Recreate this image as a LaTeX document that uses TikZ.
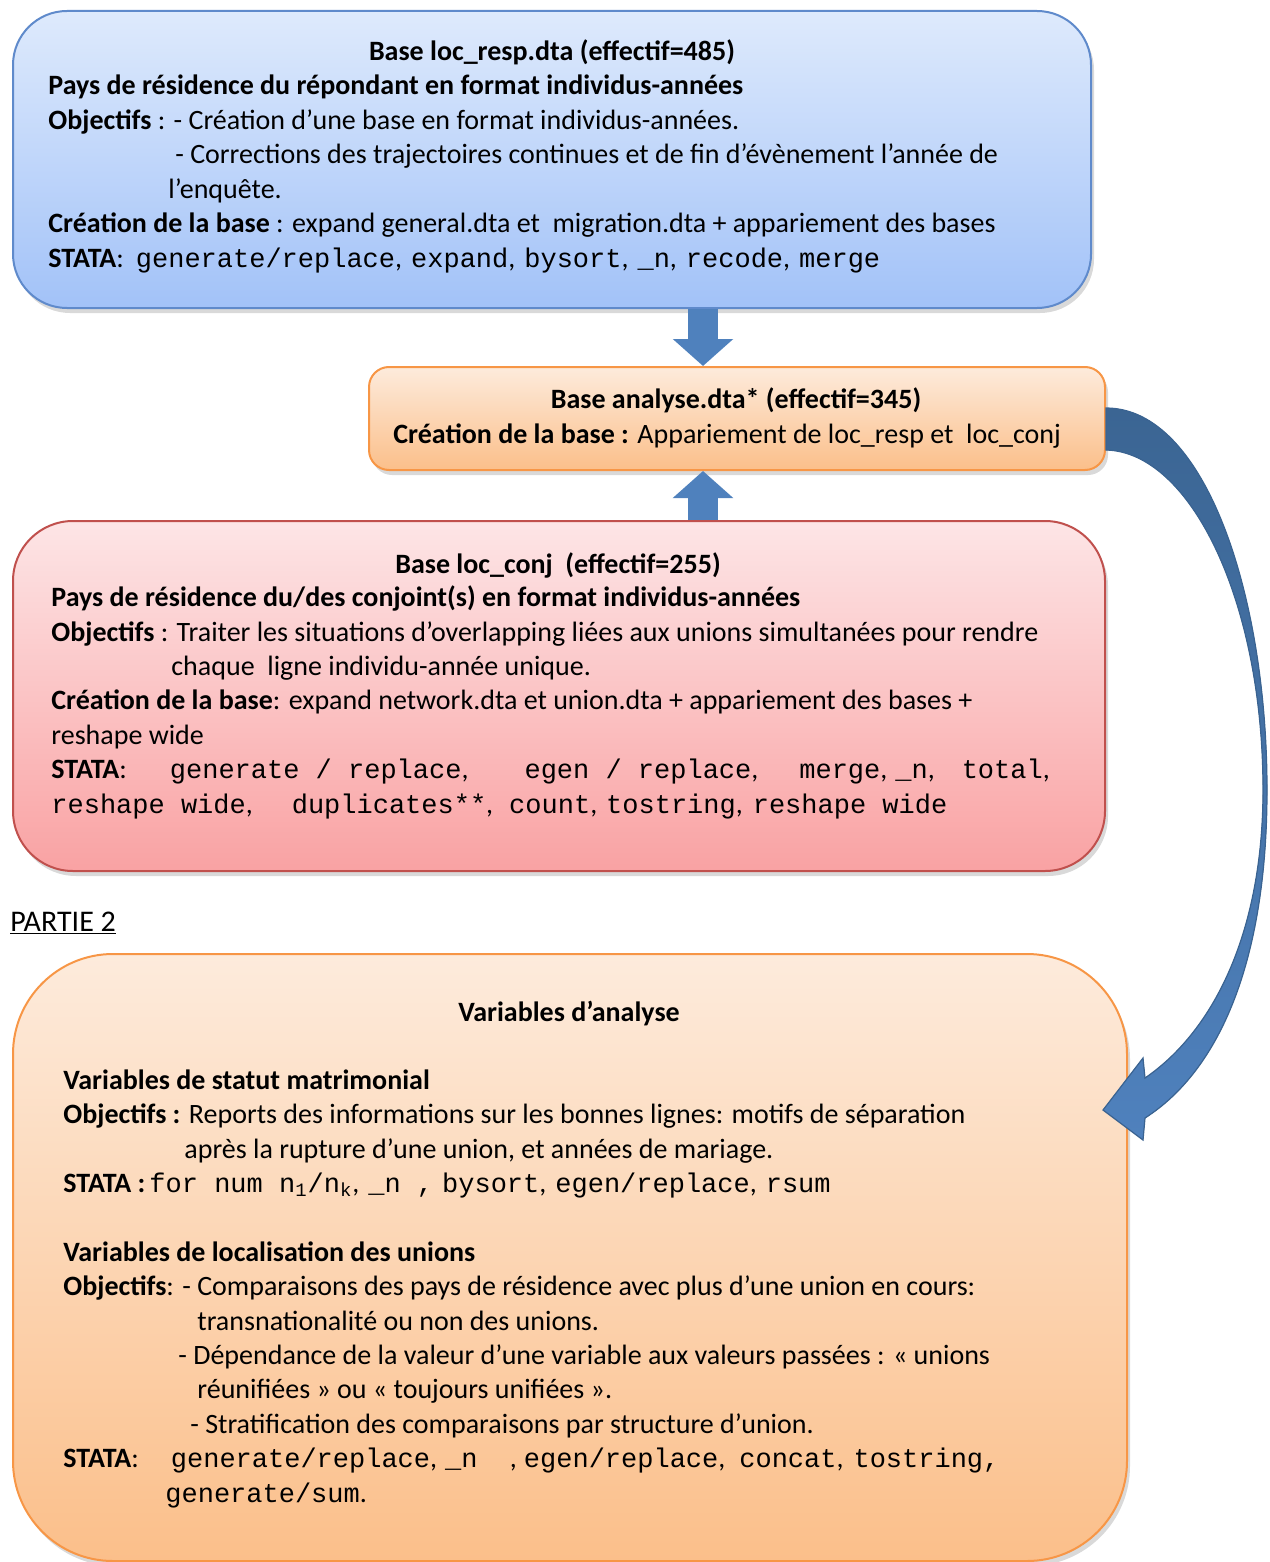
\documentclass[tikz,border=0pt]{standalone}
\usepackage{fontspec}
\setmainfont{Carlito}
\setmonofont{Liberation Mono}
\usetikzlibrary{shadows,arrows.meta}

\definecolor{blueA}{HTML}{DEEAFC}
\definecolor{blueB}{HTML}{A2C2F8}
\definecolor{blueline}{HTML}{5F8ACB}
\definecolor{orangeA}{HTML}{FDEBDC}
\definecolor{orangeB}{HTML}{FBBF8A}
\definecolor{orangeline}{HTML}{F79646}
\definecolor{redA}{HTML}{FDE5E6}
\definecolor{redB}{HTML}{F9A2A3}
\definecolor{redline}{HTML}{C0504D}
\definecolor{arrowblue}{HTML}{4F81BD}
\definecolor{arrowdark}{HTML}{3B6593}
\definecolor{arrowline}{HTML}{3A6391}

\newcommand{\cmd}[1]{{\ttfamily\fontsize{13.5}{17.2}\selectfont #1}}
\newcommand{\sep}{,\hspace{4.5pt}}

\begin{document}
\begin{tikzpicture}[x=0.5pt, y=-0.5pt,
    box/.style={draw, line width=1pt, anchor=north west, inner sep=0pt,
      drop shadow={opacity=0.3, shadow xshift=1.5pt, shadow yshift=-2.5pt}},
    bluebox/.style={box, draw=blueline, top color=blueA, bottom color=blueB, rounded corners=27pt},
    anabox/.style={box, draw=orangeline, top color=orangeA, bottom color=orangeB, rounded corners=10pt},
    redbox/.style={box, draw=redline, top color=redA, bottom color=redB, rounded corners=30pt},
    varbox/.style={box, draw=orangeline, top color=orangeA, bottom color=orangeB, rounded corners=50pt},
    title/.style={anchor=base, inner sep=0pt, font=\fontsize{14}{17.2}\selectfont\bfseries},
    txt/.style={anchor=base west, align=left, inner sep=0pt, font=\fontsize{14}{17.2}\selectfont},
    fat arrow/.style={arrowblue, line width=15pt, -{Triangle[length=13.5pt, width=29.5pt]}}]
  \useasboundingbox (0,0) rectangle (1269,1562);

  % the four boxes
  \node[bluebox, minimum width=539pt, minimum height=148.5pt] (resp) at (12,10) {};
  \node[anabox, minimum width=368pt, minimum height=51.5pt] (analyse) at (368,366) {};
  \node[redbox, minimum width=546pt, minimum height=175pt] (conj) at (12,520) {};
  \node[varbox, minimum width=557pt, minimum height=303.5pt] (vars) at (12,953) {};

  % straight arrows
  \draw[fat arrow] (resp.south -| 703,0) -- (analyse.north -| 703,0);
  \draw[fat arrow] (conj.north -| 703,0) -- (analyse.south -| 703,0);

  % curved arrow to part 2
  \filldraw[draw=arrowline, line width=0.6pt, top color=arrowdark, bottom color=arrowblue]
    (analyse.east |- 0,408) .. controls (1205,408) and (1267,595) .. (1267,790)
    .. controls (1267,960) and (1220,1070) .. (1145,1118)
    -- (1143,1140) -- (1103,1110) -- (1143,1058) -- (1145,1078)
    .. controls (1215,1030) and (1263,930) .. (1263,790)
    .. controls (1263,600) and (1190,452) .. (analyse.east |- 0,450) -- cycle;

  % texts of the first box (anchored on the last line)
  \node[title] (resptitle) at (552,61) {Base loc\_resp.dta (effectif=485)};
  \node[txt] (resptext) at (48,267) {\textbf{Pays de résidence du répondant en format individus-années}\\
    \textbf{Objectifs} : - Création d’une base en format individus-années.\\
    \hspace*{63.5pt}- Corrections des trajectoires continues et de fin d’évènement l’année de\\
    \hspace*{60pt}l’enquête.\\
    \textbf{Création de la base} : expand general.dta et \ migration.dta + appariement des bases\\
    \textbf{STATA}:\hspace{6pt}\cmd{generate/replace}\sep\cmd{expand}\sep\cmd{bysort}\sep\cmd{\_n}\sep\cmd{recode}\sep\cmd{merge}};

  % analyse box
  \node[title] (anatitle) at (736,408) {Base analyse.dta* (effectif=345)};
  \node[txt] (anatext) at (393,443) {\textbf{Création de la base :} Appariement de loc\_resp et \ loc\_conj};

  % texts of the conjoint box
  \node[title] (conjtitle) at (558,573) {Base loc\_conj \ (effectif=255)};
  \node[txt] (conjtext) at (51,813) {\textbf{Pays de résidence du/des conjoint(s) en format individus-années}\\
    \textbf{Objectifs} : Traiter les situations d’overlapping liées aux unions simultanées pour rendre\\
    \hspace*{60pt}chaque \ ligne individu-année unique.\\
    \textbf{Création de la base}: expand network.dta et union.dta + appariement des bases +\\
    reshape wide\\
    \textbf{STATA}:\hspace{21.5pt}\cmd{generate / replace},\hspace{28pt}\cmd{egen / replace},\hspace{20.5pt}\cmd{merge},\hspace{4pt}\cmd{\_n},\hspace{13.5pt}\cmd{total},\\
    \cmd{reshape wide},\hspace{19.5pt}\cmd{duplicates**},\hspace{8pt}\cmd{count},\hspace{4.5pt}\cmd{tostring},\hspace{5pt}\cmd{reshape wide}};

  \node[txt, font=\fontsize{15}{17.2}\selectfont] (part) at (10,931) {\underline{PARTIE 2}};

  % texts of part 2
  \node[title] (varstitle) at (569,1021) {Variables d’analyse};
  \node[txt] (varstext) at (63,1502) {\textbf{Variables de statut matrimonial}\\
    \textbf{Objectifs :} Reports des informations sur les bonnes lignes: motifs de séparation\\
    \hspace*{60.5pt}après la rupture d’une union, et années de mariage.\\
    \textbf{STATA :}\hspace{2pt}\cmd{for num n\textsubscript{1}/n\textsubscript{k}}\sep\cmd{\_n ,}\hspace{4.5pt}\cmd{bysort}\sep\cmd{egen/replace}\sep\cmd{rsum}\\[17.2pt]
    \textbf{Variables de localisation des unions}\\
    \textbf{Objectifs}: - Comparaisons des pays de résidence avec plus d’une union en cours:\\
    \hspace*{67pt}transnationalité ou non des unions.\\
    \hspace*{57.5pt}- Dépendance de la valeur d’une variable aux valeurs passées : « unions\\
    \hspace*{67pt}réunifiées » ou « toujours unifiées ».\\
    \hspace*{63.5pt}- Stratification des comparaisons par structure d’union.\\
    \textbf{STATA}:\hspace{16pt}\cmd{generate/replace},\hspace{4pt}\cmd{\_n \ },\hspace{3.5pt}\cmd{egen/replace},\hspace{7pt}\cmd{concat},\hspace{5pt}\cmd{tostring,}\\
    \hspace*{51pt}\cmd{generate/sum}.};
\end{tikzpicture}
\end{document}
